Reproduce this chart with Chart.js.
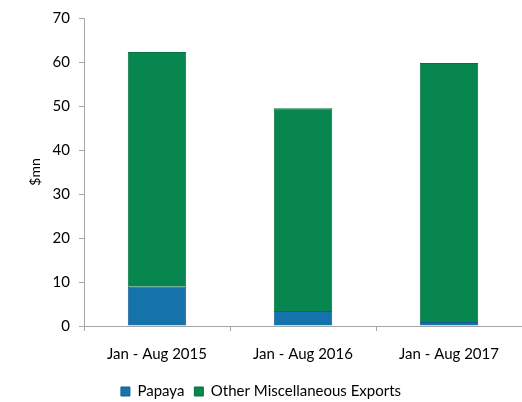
<!DOCTYPE html>
<html>
<head>
<meta charset="utf-8">
<script src="https://cdn.jsdelivr.net/npm/chart.js@4.4.1/dist/chart.umd.min.js"></script>
<style>
    html, body { margin: 0; padding: 0; background: #fff; }
    #wrap { position: relative; width: 522px; height: 402px; }
</style>
</head>
<body>
<div id="wrap"><canvas id="chart"></canvas></div>
<script>
const categories = ['Jan - Aug 2015', 'Jan - Aug 2016', 'Jan - Aug 2017'];
const papaya = [8.9, 3.4, 0.9];
const otherExports = [53.4, 46.1, 58.9];
const yTicks = [0, 10, 20, 30, 40, 50, 60, 70];

const axisGrey = '#a6a6a6';
const textColor = '#000000';
const fontFamily = "Lato, 'Open Sans', 'Liberation Sans', sans-serif";

Chart.defaults.font.family = fontFamily;
Chart.defaults.font.size = 15;
Chart.defaults.color = textColor;

const ctx = document.getElementById('chart').getContext('2d');
const chart = new Chart(ctx, {
    type: 'bar',
    data: {
        labels: categories,
        datasets: [
            {
                label: 'Papaya',
                data: papaya,
                backgroundColor: '#1672ab',
                borderColor: '#115f90',
                borderWidth: 1
            },
            {
                label: 'Other Miscellaneous Exports',
                data: otherExports,
                backgroundColor: '#07874f',
                borderColor: '#06723f',
                borderWidth: 1
            }
        ]
    },
    options: {
        responsive: true,
        maintainAspectRatio: false,
        animation: false,
        layout: {
            padding: { top: 17, right: 0, bottom: -7, left: 0 }
        },
        datasets: {
            bar: {
                categoryPercentage: 1,
                barPercentage: 0.4
            }
        },
        scales: {
            x: {
                stacked: true,
                offset: true,
                grid: {
                    display: true,
                    offset: true,
                    drawOnChartArea: false,
                    drawTicks: true,
                    tickLength: 5,
                    color: axisGrey
                },
                border: { display: true, color: axisGrey, width: 1 },
                ticks: { padding: 14, maxRotation: 0 },
                afterFit: scale => { scale.height = 48; }
            },
            y: {
                stacked: true,
                min: 0,
                max: 70,
                afterBuildTicks: scale => {
                    scale.ticks = yTicks.map(v => ({ value: v }));
                },
                grid: {
                    display: true,
                    drawOnChartArea: false,
                    drawTicks: true,
                    tickLength: 5,
                    color: axisGrey
                },
                border: { display: true, color: axisGrey, width: 1 },
                ticks: { padding: 9 },
                title: {
                    display: true,
                    text: '$mn',
                    font: { size: 14 },
                    padding: { top: 27, bottom: 0 }
                },
                afterFit: scale => { scale.width = 84; }
            }
        },
        plugins: {
            legend: {
                position: 'bottom',
                labels: {
                    boxWidth: 9,
                    boxHeight: 9,
                    padding: 10,
                    font: { size: 15 }
                }
            },
            tooltip: { enabled: false }
        }
    }
});
</script>
</body>
</html>
